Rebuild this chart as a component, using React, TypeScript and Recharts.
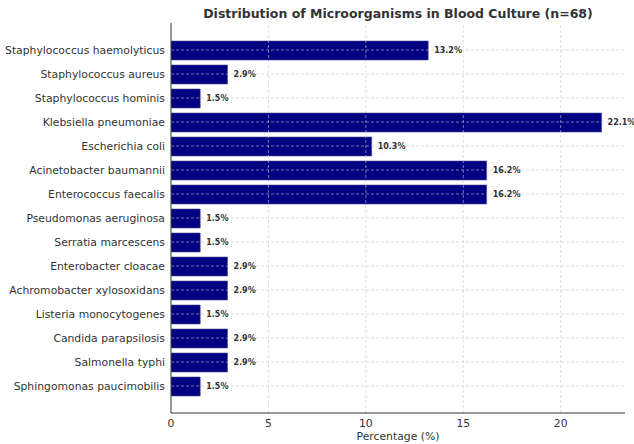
import React from 'react';
import { BarChart, Bar, XAxis, YAxis, ReferenceLine, LabelList } from 'recharts';

const categories = [
  'Staphylococcus haemolyticus',
  'Staphylococcus aureus',
  'Staphylococcus hominis',
  'Klebsiella pneumoniae',
  'Escherichia coli',
  'Acinetobacter baumannii',
  'Enterococcus faecalis',
  'Pseudomonas aeruginosa',
  'Serratia marcescens',
  'Enterobacter cloacae',
  'Achromobacter xylosoxidans',
  'Listeria monocytogenes',
  'Candida parapsilosis',
  'Salmonella typhi',
  'Sphingomonas paucimobilis',
];
const percentages = [13.2, 2.9, 1.5, 22.1, 10.3, 16.2, 16.2, 1.5, 1.5, 2.9, 2.9, 1.5, 2.9, 2.9, 1.5];
const xTicks = [0, 5, 10, 15, 20];

const data = categories.map((name, i) => ({ name, value: percentages[i] }));

if (typeof document !== 'undefined') {
  document.body.style.margin = '0';
}

const FONT = '"DejaVu Sans", sans-serif';
const TXT = '#333333';

const YTick = (props: any) => {
  const { x, y, payload } = props;
  return (
    <text x={x + 2} y={y} dy={4} textAnchor="end" fill={TXT} fontSize={10.8} fontFamily={FONT}>
      {payload.value}
    </text>
  );
};

export default function App() {
  return (
    <div style={{ position: 'relative', width: 634, height: 444, background: '#fff', fontFamily: FONT, overflow: 'hidden' }}>
      <div
        style={{
          position: 'absolute',
          top: 6,
          left: 171,
          width: 454,
          textAlign: 'center',
          fontWeight: 'bold',
          fontSize: 12.5,
          color: TXT,
          lineHeight: '16px',
          whiteSpace: 'nowrap',
        }}
      >
        Distribution of Microorganisms in Blood Culture (n=68)
      </div>
      <BarChart
        width={634}
        height={444}
        data={data}
        layout="vertical"
        margin={{ top: 23, right: 9, bottom: 0, left: 0 }}
        barCategoryGap={0}
        style={{ overflow: 'visible' }}
      >
        <XAxis
          type="number"
          domain={[0, 23.3]}
          ticks={xTicks}
          allowDataOverflow
          height={31}
          tick={{ fill: TXT, fontSize: 10.8, fontFamily: FONT }}
          tickLine={false}
          axisLine={{ stroke: TXT, strokeWidth: 1 }}
          tickMargin={0}
          label={{ value: 'Percentage (%)', position: 'insideBottom', offset: 4, fill: TXT, fontSize: 10.8, fontFamily: FONT }}
        />
        <YAxis
          type="category"
          dataKey="name"
          width={171}
          padding={{ top: 15, bottom: 15 }}
          tick={<YTick />}
          tickLine={false}
          axisLine={{ stroke: TXT, strokeWidth: 1 }}
          interval={0}
        />
        <Bar dataKey="value" fill="#000080" stroke="#4a4aa0" strokeWidth={0.6} barSize={19} isAnimationActive={false}>
          <LabelList
            dataKey="value"
            position="right"
            offset={6}
            formatter={(v: number) => `${v.toFixed(1)}%`}
            style={{ fill: TXT, fontSize: 8, fontWeight: 'bold', fontFamily: FONT }}
          />
        </Bar>
        {categories.map((c) => (
          <ReferenceLine key={'h' + c} y={c} stroke="#c8c8c8" strokeDasharray="3 2" strokeWidth={0.6} />
        ))}
        {xTicks.filter((t) => t > 0).map((t) => (
          <ReferenceLine key={'v' + t} x={t} stroke="#c8c8c8" strokeDasharray="3 2" strokeWidth={0.6} />
        ))}
      </BarChart>
    </div>
  );
}
